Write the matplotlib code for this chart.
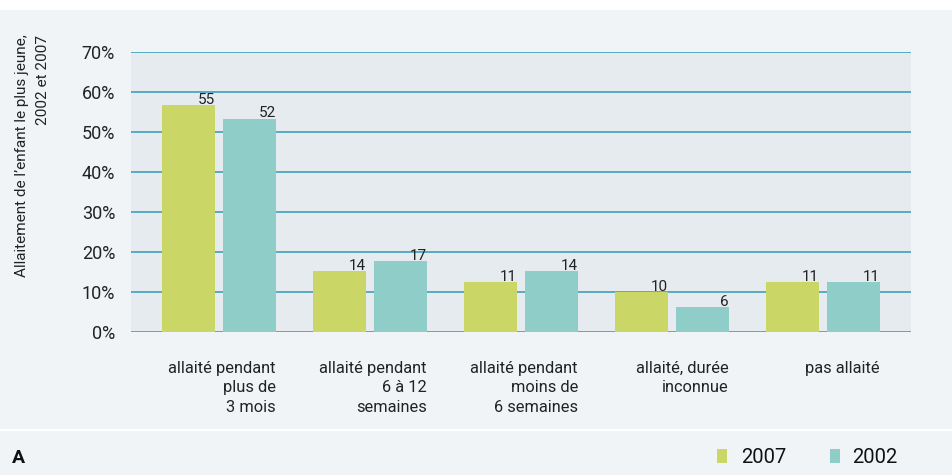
import numpy as np
import matplotlib
matplotlib.use("Agg")
import matplotlib.pyplot as plt
from matplotlib.patches import Rectangle

plt.rcParams['font.family'] = ['Roboto', 'DejaVu Sans']

# Data
categories = ["allaité pendant\nplus de\n3 mois",
              "allaité pendant\n6 à 12\nsemaines",
              "allaité pendant\nmoins de\n6 semaines",
              "allaité, durée\ninconnue",
              "pas allaité"]
bars_2007 = [56.7, 15.2, 12.5, 9.9, 12.5]
bars_2002 = [53.3, 17.75, 15.2, 6.25, 12.5]
labels_2007 = ["55", "14", "11", "10", "11"]
labels_2002 = ["52", "17", "14", "6", "11"]
yticks = [0, 10, 20, 30, 40, 50, 60, 70]

green = "#cad766"
teal = "#8ecdc8"
grid_col = "#3fa0bb"
fig_bg = "#f0f4f7"
ax_bg = "#e6ebf0"
txt = "#222222"

fig = plt.figure(figsize=(9.52, 4.75), dpi=100)
fig.patch.set_facecolor(fig_bg)

# white strips (top band and separator above legend)
fig.patches.append(Rectangle((0, 1 - 10 / 475), 1, 10 / 475, transform=fig.transFigure,
                             facecolor="white", edgecolor="none", zorder=0))
fig.patches.append(Rectangle((0, 1 - 431 / 475), 1, 2.5 / 475, transform=fig.transFigure,
                             facecolor="white", edgecolor="none", zorder=0))

ax = fig.add_axes([131 / 952, 1 - 332 / 475, 780 / 952, 280 / 475])
ax.set_facecolor(ax_bg)

x = np.arange(len(categories))
w = 0.35
off = 0.202
b1 = ax.bar(x - off, bars_2007, w, color=green, zorder=3)
b2 = ax.bar(x + off, bars_2002, w, color=teal, zorder=3)

for bars, labs in ((b1, labels_2007), (b2, labels_2002)):
    for r, lab in zip(bars, labs):
        ax.text(r.get_x() + r.get_width(), r.get_height() - 0.4, lab,
                ha="right", va="bottom", fontsize=11, color=txt, zorder=4)

ax.set_xlim(-0.583, 4.583)
ax.set_ylim(0, 70)
ax.set_yticks(yticks)
ax.set_yticklabels([f"{t}%" for t in yticks], fontsize=13, color=txt)
ax.tick_params(axis="y", length=0, pad=11.5)
ax.set_xticks([])
for t in yticks:
    ax.axhline(t, color=grid_col, lw=1.2, zorder=2)
for s in ax.spines.values():
    s.set_visible(False)

# category labels, right aligned under the 2002 bar
for i, cat in enumerate(categories):
    ax.annotate(cat, xy=(x[i] + off + w / 2, 0), xycoords="data",
                xytext=(0, -21), textcoords="offset points",
                ha="right", va="top", fontsize=11.8, color=txt,
                linespacing=1.35, multialignment="right")

fig.text(32.5 / 952, 1 - 156 / 475,
         "Allaitement de l\u2019enfant le plus jeune,\n2002 et 2007",
         rotation=90, ha="center", va="center", fontsize=11,
         color=txt, multialignment="right", linespacing=1.55)

# bottom band: letter and legend
fig.text(12 / 952, 1 - 463 / 475, "A", fontsize=14, fontweight="bold",
         color="#111111", ha="left", va="baseline")
fig.patches.append(Rectangle((717 / 952, 1 - 463 / 475), 10 / 952, 14 / 475,
                             transform=fig.transFigure, facecolor=green, edgecolor="none"))
fig.text(741 / 952, 1 - 463 / 475, "2007", fontsize=14.5, color="#111111",
         ha="left", va="baseline")
fig.patches.append(Rectangle((830 / 952, 1 - 463 / 475), 10 / 952, 14 / 475,
                             transform=fig.transFigure, facecolor=teal, edgecolor="none"))
fig.text(852 / 952, 1 - 463 / 475, "2002", fontsize=14.5, color="#111111",
         ha="left", va="baseline")

fig.savefig("out.png", dpi=100, facecolor=fig.get_facecolor())
